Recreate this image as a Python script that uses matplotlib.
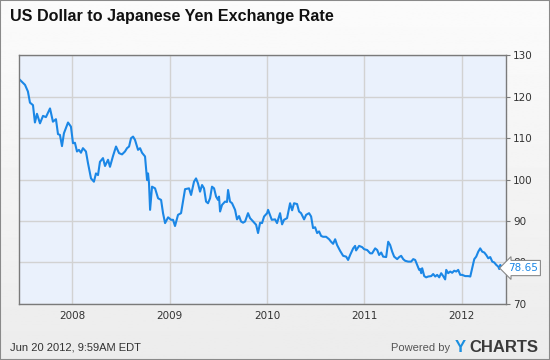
import numpy as np
import matplotlib
matplotlib.use("Agg")
import matplotlib.pyplot as plt

# USD/JPY weekly-ish closes (decimal year, yen)
years = [2007.462, 2007.514, 2007.544, 2007.565, 2007.596, 2007.616, 2007.637, 2007.668, 2007.699, 2007.729,
         2007.771, 2007.801, 2007.832, 2007.853, 2007.873, 2007.894, 2007.914, 2007.956, 2007.986, 2008.007,
         2008.027, 2008.048, 2008.068, 2008.089, 2008.109, 2008.140, 2008.161, 2008.192, 2008.222, 2008.243,
         2008.264, 2008.284, 2008.315, 2008.336, 2008.367, 2008.387, 2008.418, 2008.449, 2008.480, 2008.511,
         2008.541, 2008.562, 2008.583, 2008.603, 2008.624, 2008.644, 2008.675, 2008.696, 2008.716, 2008.747,
         2008.768, 2008.778, 2008.788, 2008.799, 2008.819, 2008.850, 2008.881, 2008.912, 2008.932, 2008.953,
         2008.984, 2009.014, 2009.035, 2009.055, 2009.086, 2009.117, 2009.137, 2009.158, 2009.199, 2009.220,
         2009.250, 2009.271, 2009.291, 2009.312, 2009.333, 2009.353, 2009.374, 2009.394, 2009.415, 2009.435,
         2009.456, 2009.477, 2009.497, 2009.507, 2009.518, 2009.538, 2009.569, 2009.589, 2009.600, 2009.620,
         2009.641, 2009.672, 2009.692, 2009.713, 2009.733, 2009.754, 2009.775, 2009.805, 2009.826, 2009.857,
         2009.888, 2009.908, 2009.929, 2009.949, 2009.970, 2010.001, 2010.011, 2010.049, 2010.083, 2010.103,
         2010.134, 2010.155, 2010.175, 2010.206, 2010.237, 2010.258, 2010.278, 2010.309, 2010.329, 2010.350,
         2010.381, 2010.402, 2010.432, 2010.453, 2010.473, 2010.494, 2010.515, 2010.535, 2010.556, 2010.576,
         2010.607, 2010.638, 2010.658, 2010.679, 2010.700, 2010.720, 2010.751, 2010.782, 2010.813, 2010.833,
         2010.854, 2010.885, 2010.905, 2010.915, 2010.946, 2010.977, 2010.998, 2011.029, 2011.060, 2011.080,
         2011.111, 2011.132, 2011.152, 2011.173, 2011.193, 2011.224, 2011.245, 2011.265, 2011.286, 2011.306,
         2011.337, 2011.358, 2011.378, 2011.399, 2011.419, 2011.450, 2011.481, 2011.502, 2011.522, 2011.543,
         2011.563, 2011.574, 2011.584, 2011.594, 2011.615, 2011.635, 2011.656, 2011.687, 2011.707, 2011.728,
         2011.748, 2011.769, 2011.789, 2011.810, 2011.830, 2011.841, 2011.861, 2011.882, 2011.902, 2011.923,
         2011.944, 2011.964, 2011.985, 2012.005, 2012.036, 2012.067, 2012.088, 2012.108, 2012.129, 2012.149,
         2012.170, 2012.190, 2012.211, 2012.232, 2012.252, 2012.273, 2012.293, 2012.314, 2012.334, 2012.355,
         2012.375, 2012.386, 2012.396, 2012.416, 2012.432]
rates = [124.1, 122.9, 121.3, 118.6, 118.0, 113.8, 115.9, 113.6, 115.4, 115.1,
         117.2, 114.0, 114.6, 111.0, 110.8, 108.1, 111.2, 113.8, 112.8, 108.8,
         108.9, 106.8, 107.2, 106.5, 107.6, 106.8, 104.0, 100.3, 99.5, 101.5,
         101.1, 104.3, 105.2, 103.3, 104.8, 103.1, 105.7, 108.0, 106.4, 106.1,
         106.8, 107.6, 108.0, 110.0, 110.4, 109.6, 107.2, 107.6, 106.5, 105.6,
         99.9, 101.5, 99.1, 92.7, 98.3, 97.9, 95.5, 95.1, 91.9, 89.5,
         90.9, 90.3, 90.3, 88.8, 91.5, 91.9, 94.7, 97.7, 97.9, 96.3,
         99.5, 100.3, 99.1, 97.1, 98.7, 97.9, 94.7, 94.3, 95.5, 98.3,
         97.9, 95.9, 95.1, 95.9, 92.3, 93.9, 94.7, 94.6, 97.5, 94.7,
         94.3, 92.7, 90.4, 91.2, 89.9, 89.6, 89.9, 91.9, 90.7, 89.9,
         89.1, 87.1, 89.6, 89.5, 91.1, 91.9, 92.7, 90.3, 90.4, 89.5,
         91.9, 89.2, 90.3, 90.7, 94.3, 92.6, 94.3, 94.1, 92.3, 91.9,
         90.4, 91.5, 91.9, 91.1, 88.3, 88.5, 87.1, 87.5, 86.4, 86.2,
         86.2, 85.6, 85.0, 84.5, 85.6, 84.2, 82.8, 81.6, 81.4, 80.6,
         81.8, 83.4, 84.0, 82.9, 84.0, 83.7, 83.2, 83.0, 82.2, 82.2,
         83.4, 83.0, 81.8, 82.4, 81.4, 81.3, 85.0, 84.2, 82.6, 81.4,
         80.8, 81.3, 81.6, 80.8, 80.4, 80.2, 80.2, 80.8, 80.6, 79.4,
         78.2, 78.4, 77.4, 78.6, 76.7, 76.4, 76.6, 76.7, 77.2, 76.6,
         77.0, 76.4, 77.4, 76.7, 75.9, 78.2, 77.4, 77.8, 77.5, 78.0,
         77.8, 78.2, 77.0, 77.0, 76.7, 76.7, 76.6, 78.6, 80.8, 81.4,
         82.6, 83.4, 82.6, 82.4, 81.8, 81.0, 81.3, 80.2, 80.0, 79.4,
         79.0, 78.4, 79.4, 78.7, 78.65]

x_ticks = [2008, 2009, 2010, 2011, 2012]
x_tick_labels = ["2008", "2009", "2010", "2011", "2012"]
y_ticks = [70, 80, 90, 100, 110, 120, 130]
last_label = "78.65"

title = "US Dollar to Japanese Yen Exchange Rate"
footer = "Jun 20 2012, 9:59AM EDT"

fig = plt.figure(figsize=(5.5, 3.6), dpi=100)

# light grey gradient page background
bg = fig.add_axes([0, 0, 1, 1], zorder=-10)
grad = np.linspace(0.985, 0.925, 256).reshape(-1, 1)
bg.imshow(grad, aspect="auto", cmap="gray", vmin=0, vmax=1, extent=[0, 1, 0, 1])
bg.set_xlim(0, 1)
bg.set_ylim(0, 1)
bg.axis("off")
fig.patches.append(plt.Rectangle((0, 0), 1, 1, transform=fig.transFigure, fill=False,
                                 edgecolor="#8a8a8a", linewidth=1.5))

ax = fig.add_axes([0.035, 0.156, 0.885, 0.690])
ax.set_facecolor("#eaf1fc")
ax.plot(years, rates, color="#1b87e6", linewidth=1.5, solid_joinstyle="round")

ax.set_xlim(2007.455, 2012.455)
ax.set_ylim(70, 130)
ax.set_xticks(x_ticks)
ax.set_xticklabels(x_tick_labels)
ax.set_yticks(y_ticks)
ax.yaxis.tick_right()
ax.grid(True, color="#d2d2d2", linewidth=1)
ax.set_axisbelow(True)
for s in ax.spines.values():
    s.set_color("#7a7a7a")
    s.set_linewidth(1)
ax.tick_params(axis="x", length=0, pad=5, labelsize=7.5, labelcolor="#333333")
ax.tick_params(axis="y", length=3, width=0.8, color="#7a7a7a", pad=2,
               labelsize=7.5, labelcolor="#333333")

# last value flag (sits over the "80" label, as in the original)
ax.annotate(last_label, xy=(years[-1], rates[-1]), xycoords="data",
            xytext=(1.004, rates[-1]), textcoords=("axes fraction", "data"),
            va="center", ha="left", fontsize=7.5, color="#1b87e6", zorder=10,
            bbox=dict(boxstyle="larrow,pad=0.25", facecolor="white", edgecolor="#8a8a8a", linewidth=0.8))

fig.text(0.019, 0.955, title, fontsize=11.6, fontweight="bold", family="Liberation Sans",
         color="#111111", va="center", ha="left")
fig.text(0.019, 0.034, footer, fontsize=8, family="Liberation Sans",
         color="#333333", va="center", ha="left")
fig.text(0.819, 0.034, "Powered by", fontsize=8, family="Liberation Sans",
         color="#555555", va="center", ha="right")
fig.text(0.827, 0.036, "Y", fontsize=12, fontweight="bold", family="Liberation Sans",
         color="#1a8fe0", va="center", ha="left")
fig.text(0.854, 0.036, "CHARTS", fontsize=12, fontweight="bold", family="Liberation Sans",
         color="#3a3a3a", va="center", ha="left")

fig.savefig("out.png", dpi=100)
